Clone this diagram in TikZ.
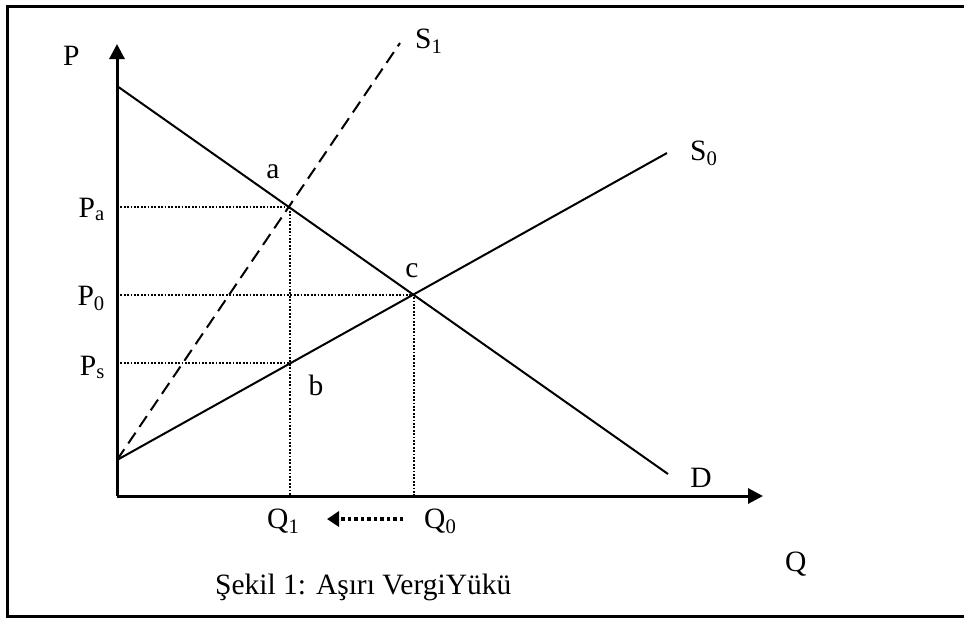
\documentclass[tikz,border=0pt]{standalone}
\usepackage{fontspec}
\setmainfont{Liberation Serif}
\usetikzlibrary{arrows.meta}
\begin{document}
\begin{tikzpicture}[x=1pt,y=-1pt,
  lbl/.style={font=\fontsize{29.5}{34}\selectfont, inner sep=0pt},
  axisline/.style={line width=3pt},
  curve/.style={line width=2pt},
  guide/.style={line width=1.8pt, dash pattern=on 1.7pt off 1.7pt},
  dashline/.style={line width=2pt, dash pattern=on 13pt off 7pt},
  frameline/.style={line width=3pt}]
\useasboundingbox (0,0) rectangle (964,619);
% frame
\coordinate (F1) at (964,6);
\coordinate (F2) at (7,6);
\coordinate (F3) at (7,616);
\coordinate (F4) at (964,616);
\draw[frameline] (F1) -- (F2) -- (F3) -- (F4);
% coordinates
\coordinate (O) at (117,496);
\coordinate (Ptop) at (117,44);
\coordinate (Qend) at (763,496);
\coordinate (D1) at (117,86);
\coordinate (D2) at (668,474);
\coordinate (S) at (117,460);
\coordinate (S0e) at (667,153);
\coordinate (S1e) at (400,43);
\coordinate (a) at (290,207);
\coordinate (c) at (414,295);
\coordinate (b) at (290,363);
\coordinate (Pa) at (117,207);
\coordinate (P0) at (117,295);
\coordinate (Ps) at (117,363);
\coordinate (Q1) at (290,496);
\coordinate (Q0) at (414,496);
\coordinate (arrS) at (403,519);
\coordinate (arrE) at (327,519);
% guides
\draw[guide] (Pa) -- (a) -- (Q1);
\draw[guide] (P0) -- (c) -- (Q0);
\draw[guide] (Ps) -- (b);
% curves
\draw[curve] (D1) -- (D2);
\draw[curve] (S) -- (S0e);
\draw[dashline] (S) -- (S1e);
% axes
\draw[axisline,-{Triangle[length=15pt,width=15pt]}] (O) -- (Ptop);
\draw[axisline,-{Triangle[length=15pt,width=15pt]}] (O) -- (Qend);
% shift arrow
\draw[line width=3.5pt, dash pattern=on 3.5pt off 3pt, -{Triangle[length=12pt,width=15pt]}] (arrS) -- (arrE);
% labels
\node[lbl,anchor=base west] (lP) at (63,65) {P};
\node[lbl,anchor=base west] (lS1) at (415,48) {S\textsubscript{1}};
\node[lbl,anchor=base west] (lS0) at (690,160) {S\textsubscript{0}};
\node[lbl,anchor=base] (la) at (273,178) {a};
\node[lbl,anchor=base] (lc) at (412,277) {c};
\node[lbl,anchor=base] (lb) at (316,395) {b};
\node[lbl,anchor=base] (lD) at (701,487) {D};
\node[lbl,anchor=base east] (lPa) at (105,217) {P\textsubscript{a}};
\node[lbl,anchor=base east] (lP0) at (105,305) {P\textsubscript{0}};
\node[lbl,anchor=base east] (lPs) at (105,375) {P\textsubscript{s}};
\node[lbl,anchor=base west] (lQ1) at (267,528) {Q\textsubscript{1}};
\node[lbl,anchor=base west] (lQ0) at (424,528) {Q\textsubscript{0}};
\node[lbl,anchor=base west] (lQ) at (785,571) {Q};
\node[lbl,anchor=base west] (cap) at (215,594) {Şekil 1: Aşırı VergiYükü};
\end{tikzpicture}
\end{document}
